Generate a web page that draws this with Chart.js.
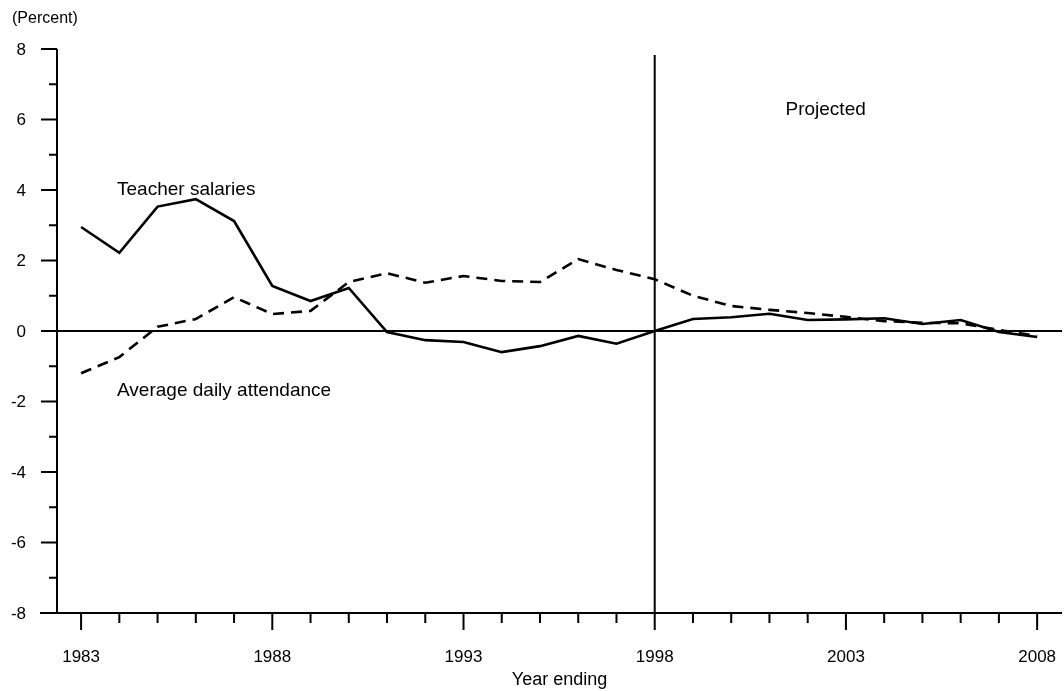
<!DOCTYPE html>
<html lang="en">
<head>
  <meta charset="UTF-8">
  <title>Teacher salaries and average daily attendance</title>
  <style>
    html, body { margin: 0; padding: 0; background: #fff; }
    .chart-container { width: 1064px; height: 691px; }
  </style>
</head>
<body>
  <div class="chart-container">
    <canvas id="pctChart" width="1064" height="691"></canvas>
  </div>

  <script src="https://cdn.jsdelivr.net/npm/chart.js"></script>
  <script>
    // data
    const years = [1983, 1984, 1985, 1986, 1987, 1988, 1989, 1990, 1991, 1992, 1993, 1994, 1995,
      1996, 1997, 1998, 1999, 2000, 2001, 2002, 2003, 2004, 2005, 2006, 2007, 2008];
    const teacherSalaries = [2.95, 2.22, 3.53, 3.74, 3.12, 1.28, 0.85, 1.22, -0.03, -0.26, -0.31, -0.6, -0.43,
      -0.14, -0.36, 0.0, 0.34, 0.39, 0.49, 0.31, 0.33, 0.36, 0.2, 0.31, -0.03, -0.17];
    const dailyAttendance = [-1.2, -0.74, 0.12, 0.34, 0.96, 0.48, 0.57, 1.39, 1.64, 1.37, 1.56, 1.42, 1.39,
      2.04, 1.73, 1.47, 1.0, 0.71, 0.6, 0.51, 0.4, 0.28, 0.23, 0.22, 0.03, -0.14];
    const yTicks = [-8, -6, -4, -2, 0, 2, 4, 6, 8];
    const xTickLabels = [1983, 1988, 1993, 1998, 2003, 2008];
    const projectedFrom = 1998;

    const font = '"Liberation Sans", Arial, Helvetica, sans-serif';

    function toPoints(vals) {
      return years.map((yr, i) => ({ x: yr, y: vals[i] }));
    }

    // axes, ticks, reference lines and text drawn through the chart scales
    const framePlugin = {
      id: 'frame',
      beforeDatasetsDraw(chart) {
        const c = chart.ctx;
        const xs = chart.scales.x, ys = chart.scales.y;
        const top = ys.getPixelForValue(8), bottom = ys.getPixelForValue(-8);
        const left = chart.chartArea.left, right = chart.chartArea.right;
        c.save();
        c.strokeStyle = '#000';
        c.lineWidth = 2;
        c.beginPath();
        // y axis
        c.moveTo(left, top); c.lineTo(left, bottom);
        // x axis
        c.moveTo(left - 17, bottom); c.lineTo(right, bottom);
        // zero line
        const y0 = ys.getPixelForValue(0);
        c.moveTo(left, y0); c.lineTo(right, y0);
        // projection divider
        const xp = xs.getPixelForValue(projectedFrom);
        c.moveTo(xp, top + 6); c.lineTo(xp, bottom);
        c.stroke();

        // y ticks (major every 2, minor every 1)
        c.beginPath();
        for (let v = -8; v <= 8; v++) {
          const py = ys.getPixelForValue(v);
          const len = yTicks.includes(v) ? 16 : 8;
          c.moveTo(left - len, py); c.lineTo(left, py);
        }
        // x ticks (major at labelled years)
        for (let yr = years[0]; yr <= years[years.length - 1]; yr++) {
          const px = xs.getPixelForValue(yr);
          const len = xTickLabels.includes(yr) ? 17 : 10;
          c.moveTo(px, bottom); c.lineTo(px, bottom + len);
        }
        c.stroke();

        // tick labels
        c.fillStyle = '#000';
        c.font = '17px ' + font;
        c.textAlign = 'right';
        c.textBaseline = 'middle';
        yTicks.forEach(v => c.fillText(String(v), left - 31, ys.getPixelForValue(v) + 1));
        c.textAlign = 'center';
        c.textBaseline = 'alphabetic';
        xTickLabels.forEach(yr => c.fillText(String(yr), xs.getPixelForValue(yr), bottom + 49));

        c.font = '18px ' + font;
        c.fillText('Year ending', (left + right) / 2, bottom + 72);
        c.font = '16px ' + font;
        c.textAlign = 'left';
        c.fillText('(Percent)', 12, 23);

        c.font = '19px ' + font;
        c.fillText('Projected', xs.getPixelForValue(2001.42), ys.getPixelForValue(6.13));
        c.fillText('Teacher salaries', xs.getPixelForValue(1983.94), ys.getPixelForValue(3.86));
        c.fillText('Average daily attendance', xs.getPixelForValue(1983.94), ys.getPixelForValue(-1.84));
        c.restore();
      }
    };

    const ctx = document.getElementById('pctChart').getContext('2d');
    new Chart(ctx, {
      type: 'line',
      data: {
        datasets: [
          {
            label: 'Teacher salaries',
            data: toPoints(teacherSalaries),
            borderColor: '#000',
            borderWidth: 2.6,
            pointRadius: 0,
            tension: 0,
            fill: false
          },
          {
            label: 'Average daily attendance',
            data: toPoints(dailyAttendance),
            borderColor: '#000',
            borderWidth: 2.6,
            borderDash: [11, 7],
            pointRadius: 0,
            tension: 0,
            fill: false
          }
        ]
      },
      options: {
        responsive: false,
        animation: false,
        layout: { padding: { left: 57, right: 2, top: 49, bottom: 78 } },
        plugins: { legend: { display: false }, tooltip: { enabled: false } },
        scales: {
          x: { type: 'linear', min: 1982.37, max: 2008.65, display: false },
          y: { min: -8, max: 8, display: false }
        }
      },
      plugins: [framePlugin]
    });
  </script>
</body>
</html>
